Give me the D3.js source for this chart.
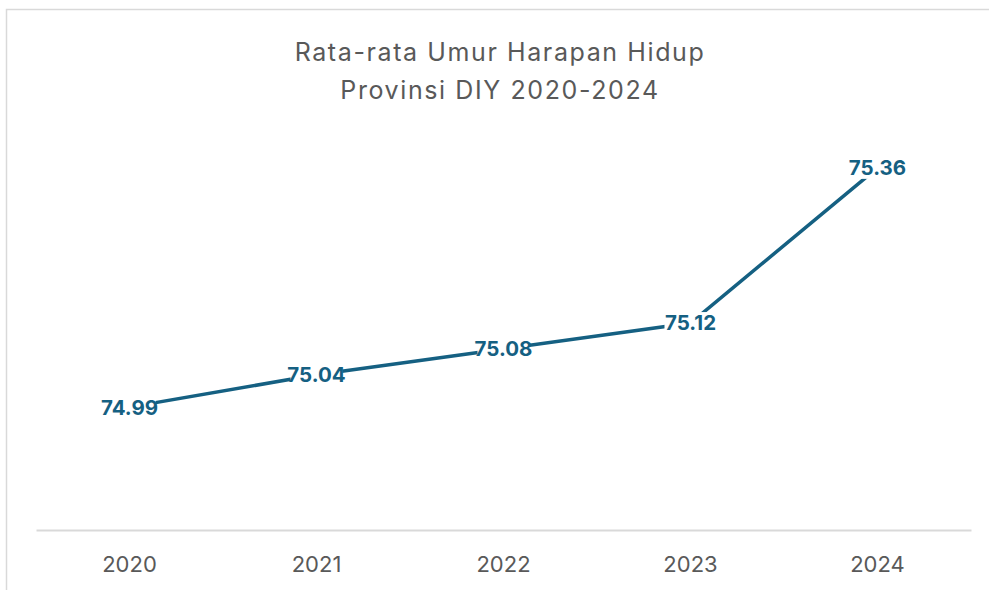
<!DOCTYPE html>
<html>
<head>
<meta charset="utf-8">
<script src="https://cdn.jsdelivr.net/npm/d3@7"></script>
<style>
    body { margin: 0; background: #fff; }
    svg { display: block; }
</style>
</head>
<body>
<svg id="chart" width="989" height="590"></svg>
<script>
// data
var years = ['2020', '2021', '2022', '2023', '2024'];
var uhh = [74.99, 75.04, 75.08, 75.12, 75.36];
var titleLines = ['Rata-rata Umur Harapan Hidup', 'Provinsi DIY 2020-2024'];

var svg = d3.select('#chart');
var plot = {left: 36, right: 971, top: 142, bottom: 530};
var lineColor = '#156082';

// chart border (cropped on right/bottom)
svg.append('rect')
    .attr('x', 6.5)
    .attr('y', 9.5)
    .attr('width', 1000)
    .attr('height', 600)
    .attr('fill', '#fff')
    .attr('stroke', '#d9d9d9')
    .attr('stroke-width', 1.5);

// title
svg.append('g').selectAll('text')
    .data(titleLines)
    .enter()
    .append('text')
    .attr('x', 500)
    .attr('y', function (d, i) { return 61 + i * 38; })
    .attr('text-anchor', 'middle')
    .attr('font-family', 'Inter, "Open Sans", sans-serif')
    .attr('font-size', 25)
    .attr('letter-spacing', 1.6)
    .attr('fill', '#595959')
    .text(function (d) { return d; });

var x = d3.scaleBand()
    .domain(years)
    .range([plot.left, plot.right]);

var y = d3.scaleLinear()
    .domain([74.8, 75.4])
    .range([plot.bottom, plot.top]);

function cx(d, i) { return x(years[i]) + x.bandwidth() / 2; }

// x axis
var xAxis = svg.append('g')
    .attr('transform', 'translate(0,' + plot.bottom + ')')
    .call(d3.axisBottom(x).tickSize(0).tickPadding(26));
xAxis.select('.domain')
    .attr('stroke', '#d9d9d9')
    .attr('stroke-width', 1.8);
xAxis.selectAll('text')
    .attr('font-family', 'Inter, "Open Sans", sans-serif')
    .attr('font-size', 22)
    .attr('fill', '#595959');

// line
var line = d3.line()
    .x(cx)
    .y(function (d) { return y(d); });

svg.append('path')
    .datum(uhh)
    .attr('d', line)
    .attr('fill', 'none')
    .attr('stroke', lineColor)
    .attr('stroke-width', 3.5);

// data labels (white box hides the line behind the number)
var labels = svg.append('g').selectAll('g')
    .data(uhh)
    .enter()
    .append('g')
    .attr('transform', function (d, i) { return 'translate(' + cx(d, i) + ',' + y(d) + ')'; });

labels.append('rect')
    .attr('x', -26)
    .attr('y', -11)
    .attr('width', 52)
    .attr('height', 22)
    .attr('fill', '#fff');

labels.append('text')
    .attr('text-anchor', 'middle')
    .attr('dy', '0.36em')
    .attr('font-family', 'Inter, "Open Sans", sans-serif')
    .attr('font-weight', 'bold')
    .attr('font-size', 20.5)
    .attr('fill', lineColor)
    .text(function (d) { return d3.format('.2f')(d); });
</script>
</body>
</html>
